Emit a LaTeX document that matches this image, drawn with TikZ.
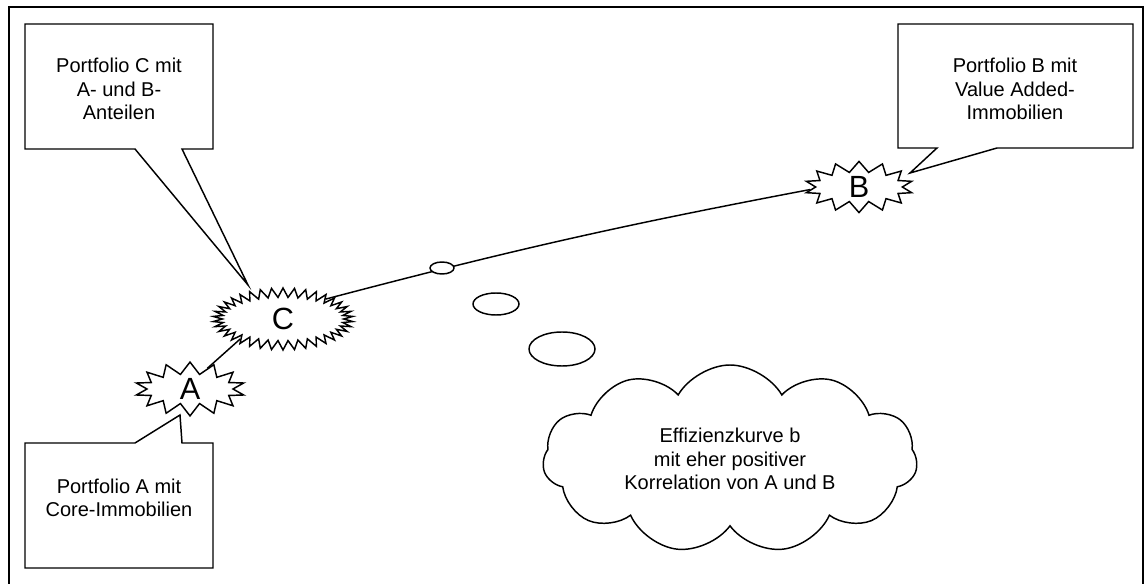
\documentclass[tikz,border=0pt]{standalone}
\usepackage{fontspec}
\setmainfont{Liberation Sans}
\usetikzlibrary{shapes.symbols}
\usetikzlibrary{shapes.geometric}
\tikzset{
    x=0.75pt, y=-0.75pt,
    every path/.append style={
        line width=1.1pt,
        line join=miter
    },
    callout/.style={
        draw,
        fill=white
    },
    calltext/.style={
        align=center,
        font=\fontsize{15}{17.5}\selectfont
    },
    burst/.style={
        starburst,
        draw,
        fill=white,
        random starburst=0,
        inner sep=0pt,
        font=\fontsize{23}{27}\selectfont
    },
    bubble/.style={
        ellipse,
        draw,
        fill=white,
        inner sep=0pt
    }
}

\begin{document}
\begin{tikzpicture}
                \useasboundingbox (0,0) rectangle (1146,584);
                \draw (9,7) rectangle (1143,600);

                \coordinate (tipC) at (248,285);
                \coordinate (tipB) at (910,173);
                \coordinate (tipA) at (180,415);

                \draw[callout] (25,24) -- (213,24) -- (213,149) -- (182,149) -- (tipC) -- (135,149) -- (25,149) -- cycle;
                \draw[callout] (898,24) -- (1133,24) -- (1133,148) -- (997,148) -- (tipB) -- (937,148) -- (898,148) -- cycle;
                \draw[callout] (25,443) -- (135,443) -- (tipA) -- (182,443) -- (213,443) -- (213,568) -- (25,568) -- cycle;

                \node[calltext] (txtC) at (119,89) {Portfolio C mit\\A- und B-\\Anteilen};
                \node[calltext] (txtB) at (1015,89) {Portfolio B mit\\Value Added-\\Immobilien};
                \node[calltext] (txtA) at (119,498) {Portfolio A mit\\Core-Immobilien};

                \node[burst, starburst points=38, starburst point height=7pt, minimum width=105pt, minimum height=46.5pt] (burstC) at (283,319) {C};
                \node[burst, starburst points=14, starburst point height=9pt, minimum width=82.5pt, minimum height=36pt] (burstA) at (190,389) {A};
                \node[burst, starburst points=14, starburst point height=8pt, minimum width=81pt, minimum height=35pt] (burstB) at (859,187) {B};

                \draw (burstA.50) -- (burstC.205);
                \draw (burstC.25) to[bend left=2] (burstB.183);

                \node[bubble, minimum width=18pt, minimum height=9pt] (bub1) at (442,268) {};
                \node[bubble, minimum width=34.5pt, minimum height=16.5pt] (bub2) at (496,304) {};
                \node[bubble, minimum width=49.5pt, minimum height=25.5pt] (bub3) at (562,349) {};

                \node[cloud, draw, fill=white, cloud puffs=11, cloud puff arc=120, cloud ignores aspect, minimum width=281pt, minimum height=141pt, calltext] (cloudE) at (730,459) {Effizienzkurve b\\mit eher positiver\\Korrelation von A und B};
            \end{tikzpicture}
\end{document}
